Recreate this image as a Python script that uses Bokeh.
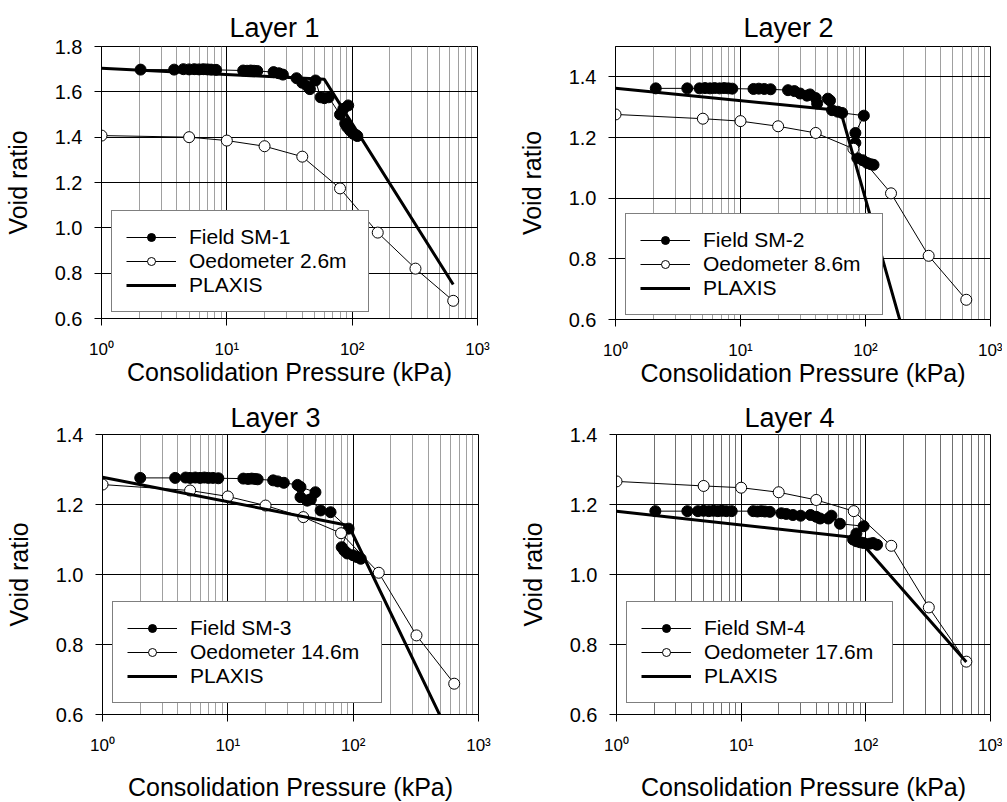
from bokeh.plotting import figure
from bokeh.layouts import column, row
from bokeh.models import (FixedTicker, Legend, LegendItem, Range1d,
                          PrintfTickFormatter, CustomJSTickFormatter)
from bokeh.embed import file_html
from bokeh.resources import INLINE

FONT = "Liberation Sans"

# ---------------- data ----------------
oed_p = [1, 5, 10, 20, 40, 80, 160, 320, 640]
oed1_e = [1.407, 1.400, 1.385, 1.360, 1.314, 1.174, 0.979, 0.820, 0.678]
oed2_e = [1.276, 1.262, 1.254, 1.237, 1.215, 1.163, 1.016, 0.810, 0.665]
oed3_e = [1.257, 1.240, 1.223, 1.197, 1.164, 1.118, 1.005, 0.826, 0.688]
oed4_e = [1.266, 1.253, 1.248, 1.235, 1.213, 1.181, 1.082, 0.906, 0.751]

field1_p = [2.05, 3.8, 4.5, 5.0, 5.5, 6.0, 6.5, 7.0, 7.5, 8.2, 13.5, 14.5, 15.5, 16.5, 17.5,
            23.6, 26, 28, 36, 40, 44, 46, 51, 56, 60, 65, 80, 85, 93, 88, 91, 96, 102, 107, 110]
field1_e = [1.698, 1.698, 1.700, 1.699, 1.700, 1.699, 1.700, 1.699, 1.698, 1.697, 1.694, 1.693,
            1.694, 1.693, 1.692, 1.687, 1.682, 1.676, 1.660, 1.640, 1.625, 1.612, 1.650, 1.576,
            1.572, 1.576, 1.500, 1.525, 1.540, 1.460, 1.445, 1.430, 1.415, 1.410, 1.405]

field2_p = [2.1, 3.75, 4.7, 5.2, 5.7, 6.2, 6.8, 7.4, 8.0, 8.6, 12.7, 14, 15.5, 17.4, 24, 27, 30,
            34, 36, 40, 41, 50, 52, 54, 60, 65, 97, 83, 83, 86, 95, 103, 110, 116]
field2_e = [1.362, 1.362, 1.362, 1.363, 1.362, 1.363, 1.362, 1.363, 1.362, 1.361, 1.360, 1.361,
            1.360, 1.359, 1.356, 1.353, 1.345, 1.338, 1.342, 1.330, 1.312, 1.328, 1.322, 1.290,
            1.285, 1.281, 1.272, 1.215, 1.182, 1.132, 1.125, 1.116, 1.112, 1.110]

field3_p = [2.0, 3.8, 4.6, 5.0, 5.5, 6.0, 6.5, 7.0, 7.6, 8.4, 13.3, 14.5, 15.5, 16.5, 17.3, 23,
            25, 28, 36, 38, 50, 38, 43, 46, 55, 66, 92, 81, 85, 90, 100, 107, 115]
field3_e = [1.276, 1.276, 1.277, 1.276, 1.277, 1.276, 1.277, 1.276, 1.276, 1.275, 1.274, 1.273,
            1.274, 1.273, 1.272, 1.269, 1.266, 1.262, 1.256, 1.250, 1.235, 1.221, 1.211, 1.215,
            1.183, 1.178, 1.131, 1.078, 1.068, 1.060, 1.055, 1.050, 1.045]

field4_p = [2.05, 3.7, 4.5, 5.0, 5.5, 6.0, 6.5, 7.0, 7.6, 8.4, 12.5, 13.5, 14.5, 15.5, 17, 21,
            23, 26, 30, 36, 40, 43, 50, 53, 62, 96, 84, 79, 84, 90, 96, 107, 114, 123]
field4_e = [1.181, 1.181, 1.181, 1.182, 1.181, 1.182, 1.181, 1.182, 1.181, 1.181, 1.181, 1.180,
            1.181, 1.180, 1.179, 1.175, 1.173, 1.170, 1.168, 1.170, 1.165, 1.160, 1.160, 1.168,
            1.145, 1.138, 1.117, 1.100, 1.095, 1.092, 1.090, 1.088, 1.090, 1.085]

plx1_p = [1, 60, 640]
plx1_e = [1.704, 1.655, 0.750]
plx2_p = [1, 63, 200]
plx2_e = [1.362, 1.289, 0.560]
plx3_p = [1, 92, 520]
plx3_e = [1.278, 1.140, 0.580]
plx4_p = [1, 85, 640]
plx4_e = [1.181, 1.105, 0.750]

titles = ["Layer 1", "Layer 2", "Layer 3", "Layer 4"]
field_labels = ["Field SM-1", "Field SM-2", "Field SM-3", "Field SM-4"]
oed_labels = ["Oedometer 2.6m", "Oedometer 8.6m", "Oedometer 14.6m", "Oedometer 17.6m"]
plx_label = "PLAXIS"
x_label = "Consolidation Pressure (kPa)"
y_label = "Void ratio"
x_ticks = [1, 10, 100, 1000]
x_minor = [m * d for d in (1, 10, 100) for m in range(2, 10)]


def panel(i, fp, fe, oe, pp, pe, ytop, yticks, fw, fh, bl, br, bt, bb,
          title_standoff, xlab_standoff, leg_xy, leg_label_w, minor_col):
    p = figure(x_axis_type="log", x_range=Range1d(1, 1000), y_range=Range1d(0.6, ytop),
               frame_width=fw, frame_height=fh, min_border_left=bl, min_border_right=br,
               min_border_top=bt, min_border_bottom=bb, output_backend="svg",
               toolbar_location=None, background_fill_color="white",
               border_fill_color="white")
    p.title.text = titles[i]
    p.title.align = "left"
    p.title.offset = 128
    p.title.standoff = title_standoff
    p.title.text_font = FONT
    p.title.text_font_size = "27px"
    p.title.text_font_style = "normal"
    p.title.text_color = "black"
    p.outline_line_color = "black"
    p.outline_line_width = 1

    p.xaxis.ticker = FixedTicker(ticks=x_ticks, minor_ticks=x_minor)
    p.xaxis.formatter = CustomJSTickFormatter(code="""
        const sup = {0: "\u2070", 1: "\u00b9", 2: "\u00b2", 3: "\u00b3"};
        return "10" + sup[Math.round(Math.log10(tick))];
    """)
    p.yaxis.ticker = FixedTicker(ticks=yticks)
    p.yaxis.formatter = PrintfTickFormatter(format="%.1f")
    for ax in (p.xaxis, p.yaxis):
        ax.axis_line_color = "black"
        ax.major_tick_line_color = "black"
        ax.major_tick_in = 0
        ax.major_tick_out = 7
        ax.minor_tick_line_color = None
        ax.major_label_text_font = FONT
        ax.major_label_text_color = "black"
        ax.axis_label_text_font = FONT
        ax.axis_label_text_font_size = "25px"
        ax.axis_label_text_font_style = "normal"
        ax.axis_label_text_color = "black"
    p.xaxis.major_label_text_font_size = "17px"
    p.yaxis.major_label_text_font_size = "20px"
    p.xaxis.axis_label = x_label
    p.yaxis.axis_label = y_label
    p.xaxis.major_label_standoff = 14
    p.yaxis.major_label_standoff = 12
    p.xaxis.axis_label_standoff = xlab_standoff
    p.yaxis.axis_label_standoff = 20

    p.xgrid.grid_line_color = "black"
    p.xgrid.grid_line_width = 1
    p.xgrid.minor_grid_line_color = minor_col
    p.xgrid.minor_grid_line_width = 1
    p.ygrid.grid_line_color = "black"
    p.ygrid.grid_line_width = 1

    r_fl = p.line(fp, fe, line_color="black", line_width=1)
    r_fs = p.scatter(fp, fe, size=11, marker="circle", fill_color="black", line_color="black")
    r_ol = p.line(oed_p, oe, line_color="black", line_width=1)
    r_os = p.scatter(oed_p, oe, size=11, marker="circle", fill_color="white",
                     line_color="black", line_width=1)
    r_pl = p.line(pp, pe, line_color="black", line_width=3)

    leg = Legend(items=[LegendItem(label=field_labels[i], renderers=[r_fl, r_fs]),
                        LegendItem(label=oed_labels[i], renderers=[r_ol, r_os]),
                        LegendItem(label=plx_label, renderers=[r_pl])],
                 location=leg_xy, orientation="vertical")
    leg.label_text_font = FONT
    leg.label_text_font_size = "21px"
    leg.label_text_color = "black"
    leg.glyph_width = 50
    leg.glyph_height = 20
    leg.label_height = 20
    leg.label_width = leg_label_w
    leg.label_standoff = 13
    leg.spacing = 0
    leg.padding = 14
    leg.margin = 0
    leg.border_line_color = "black"
    leg.border_line_width = 1
    leg.background_fill_color = "white"
    leg.background_fill_alpha = 1.0
    p.add_layout(leg, "center")
    return p


p1 = panel(0, field1_p, field1_e, oed1_e, plx1_p, plx1_e, 1.8,
           [0.6, 0.8, 1.0, 1.2, 1.4, 1.6, 1.8], 376, 272, 101, 31, 46, 80, 8, -4, (10, 6), 165,
           "#a0a0a0")
p2 = panel(1, field2_p, field2_e, oed2_e, plx2_p, plx2_e, 1.5,
           [0.6, 0.8, 1.0, 1.2, 1.4], 375, 273, 107, 12, 45, 80, 8, -4, (10, 4), 165,
           "#a0a0a0")
p3 = panel(2, field3_p, field3_e, oed3_e, plx3_p, plx3_e, 1.4,
           [0.6, 0.8, 1.0, 1.2, 1.4], 376, 280, 102, 30, 36, 86, 4, 15, (10, 11), 177,
           "#a0a0a0")
p4 = panel(3, field4_p, field4_e, oed4_e, plx4_p, plx4_e, 1.4,
           [0.6, 0.8, 1.0, 1.2, 1.4], 374, 280, 108, 12, 36, 86, 4, 15, (10, 11), 174,
           "#707070")

layout = column(row(p1, p2, spacing=0), row(p3, p4, spacing=0), spacing=0)
open("out.html", "w").write(file_html(layout, INLINE))
